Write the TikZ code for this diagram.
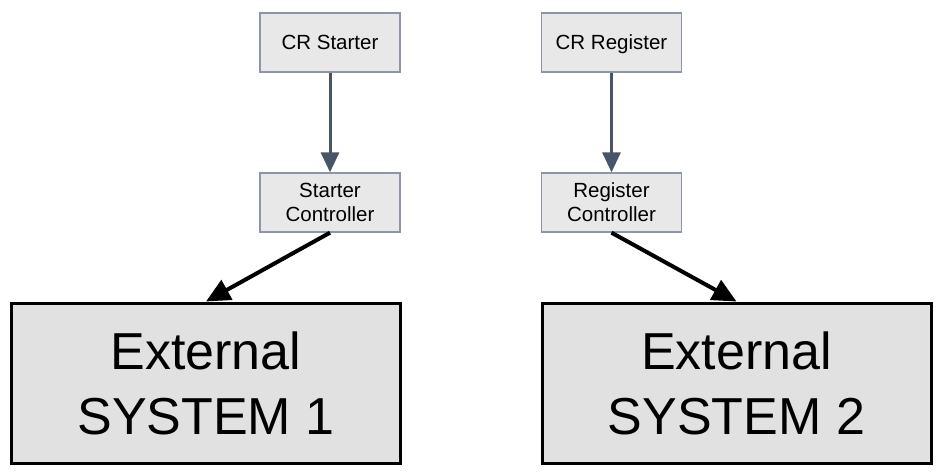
\documentclass[tikz,border=0pt]{standalone}
\usepackage{fontspec}
\setmainfont{Liberation Sans}
\usetikzlibrary{arrows.meta}
\definecolor{boxgray}{HTML}{E8E8E8}
\definecolor{boxline}{HTML}{8C96A8}
\definecolor{slate}{HTML}{485468}

\begin{document}
\begin{tikzpicture}[
  x=1pt, y=-1pt,
  crbox/.style={draw=boxline, line width=1.3pt, fill=boxgray,
    minimum width=140pt, minimum height=59pt, align=center,
    font=\fontsize{20.5}{24}\selectfont},
  extbox/.style={draw=black, line width=3pt, fill=boxgray!97!black,
    minimum width=389pt, minimum height=160pt, align=center,
    font=\fontsize{52}{65}\selectfont},
  crarrow/.style={draw=slate, line width=3pt, -{Triangle[length=20pt,width=18pt]}},
  extarrow/.style={draw=black, line width=4pt, -{Triangle[length=24pt,width=22pt]}}]
\useasboundingbox (0,0) rectangle (941,474);
\node[crbox] (crstart) at (330,42.5) {CR Starter};
\node[crbox, text depth=0pt] (crreg) at (611.5,42.5) {CR Register};
\node[crbox] (startctrl) at (330,202.5) {Starter\\Controller};
\node[crbox] (regctrl) at (611.5,202.5) {Register\\Controller};
\node[extbox] (ext1) at (206,383) {External\\SYSTEM 1};
\node[extbox] (ext2) at (736.5,383) {External\\SYSTEM 2};
\draw[crarrow] (crstart) -- (startctrl);
\draw[crarrow] (crreg) -- (regctrl);
\draw[extarrow] (startctrl.south) -- (ext1.north);
\draw[extarrow] (regctrl.south) -- (ext2.north);
\end{tikzpicture}
\end{document}
